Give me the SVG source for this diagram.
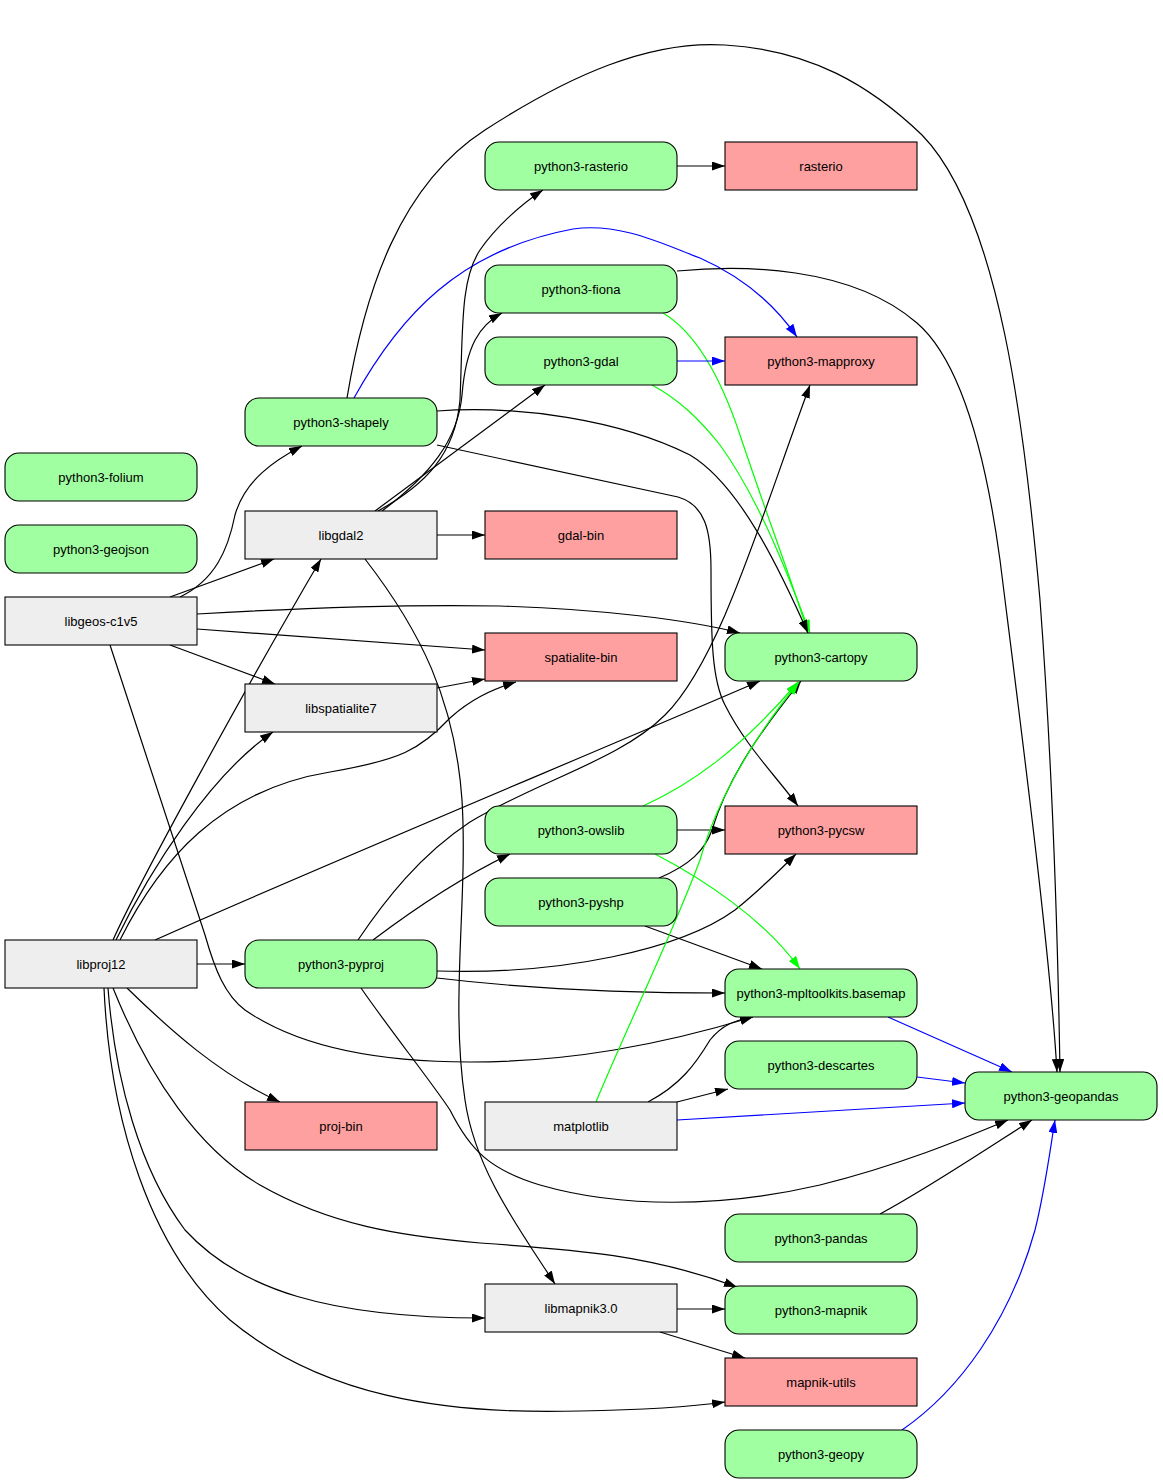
<svg xmlns="http://www.w3.org/2000/svg" width="1163" height="1484" viewBox="0 0 1163 1484">
<style>
.n rect{stroke:#000;stroke-width:1.1}
.g rect{fill:#a0ffa0}
.r rect{fill:#ffa0a0}
.x rect{fill:#eeeeee}
.n text{font-family:"Liberation Sans",Arial,sans-serif;font-size:13px;text-anchor:middle;fill:#000}
#edges path{fill:none;stroke-width:1.2}
.k{stroke:#000;marker-end:url(#ak)}
.b{stroke:#0000ff;marker-end:url(#ab)}
.e{stroke:#00ff00;marker-end:url(#ag)}
</style>
<defs>
<marker id="ak" viewBox="0 0 13 9" refX="13" refY="4.5" markerUnits="userSpaceOnUse" markerWidth="13" markerHeight="9" orient="auto"><path d="M0,0 L13,4.5 L0,9 z" fill="#000"/></marker>
<marker id="ab" viewBox="0 0 13 9" refX="13" refY="4.5" markerUnits="userSpaceOnUse" markerWidth="13" markerHeight="9" orient="auto"><path d="M0,0 L13,4.5 L0,9 z" fill="#0000ff"/></marker>
<marker id="ag" viewBox="0 0 13 9" refX="13" refY="4.5" markerUnits="userSpaceOnUse" markerWidth="13" markerHeight="9" orient="auto"><path d="M0,0 L13,4.5 L0,9 z" fill="#00ff00"/></marker>
</defs>
<rect width="1163" height="1484" fill="#fff"/>
<g id="edges">
<path class="k" d="M677,166 L725,166"/>
<path class="k" d="M347,398 C365,290 400,185 485,130 C570,75 650,40 725,45 C810,50 870,85 922,135 C1000,215 1025,430 1040,600 C1052,760 1058,950 1060,1072"/>
<path class="b" d="M354,398 C400,315 460,250 573,229 C620,222 665,245 700,258 C745,278 775,305 797,337"/>
<path class="k" d="M677,271 C740,265 850,265 917,323 C960,360 985,450 1000,560 C1020,720 1050,950 1057,1072"/>
<path class="e" d="M663,313 C700,335 725,390 740,435 C765,510 795,590 808,633"/>
<path class="b" d="M677,361 L725,361"/>
<path class="e" d="M652,385 C680,400 700,420 720,445 C760,500 790,580 810,633"/>
<path class="k" d="M437,411 C520,405 620,420 690,455 C740,485 780,570 808,633"/>
<path class="k" d="M437,445 L678,497 C705,505 711,530 711,570 C711,640 712,680 725,705 C745,745 775,775 798,806"/>
<path class="k" d="M378,511 C425,485 455,455 460,400 C463,330 460,280 480,250 C495,228 520,205 543,190"/>
<path class="k" d="M382,511 C430,475 458,440 462,395 C466,345 480,325 502,313"/>
<path class="k" d="M375,511 L545,385"/>
<path class="k" d="M437,535 L485,535"/>
<path class="k" d="M365,559 C420,630 455,700 462,800 C468,900 450,1000 465,1100 C475,1170 520,1230 555,1284"/>
<path class="k" d="M180,597 C215,580 228,550 235,515 C245,480 275,460 302,446"/>
<path class="k" d="M170,597 L274,559"/>
<path class="k" d="M197,614 C300,608 400,604 500,606 C600,609 690,620 740,633"/>
<path class="k" d="M197,629 L485,650"/>
<path class="k" d="M170,645 L275,684"/>
<path class="k" d="M110,645 L205,935 C215,970 225,995 245,1010 C300,1048 380,1062 470,1062 C570,1062 660,1045 753,1017"/>
<path class="k" d="M437,688 L485,679"/>
<path class="k" d="M113,940 C140,880 250,680 321,559"/>
<path class="k" d="M116,940 C150,870 210,775 273,732"/>
<path class="k" d="M120,940 C160,860 220,790 330,772 C400,760 420,750 450,718 C470,700 490,690 516,682"/>
<path class="k" d="M155,940 C300,875 600,750 760,681"/>
<path class="k" d="M197,964 L245,964"/>
<path class="k" d="M127,988 C170,1030 220,1075 280,1102"/>
<path class="k" d="M113,988 C150,1080 200,1150 260,1185 C330,1225 400,1236 480,1243 C580,1250 650,1255 737,1287"/>
<path class="k" d="M108,988 C115,1080 140,1170 185,1230 C240,1290 330,1318 485,1318"/>
<path class="k" d="M104,988 C110,1120 150,1250 230,1320 C320,1395 440,1415 580,1411 C640,1410 690,1407 725,1402"/>
<path class="k" d="M358,940 C385,900 420,855 470,822 C540,780 620,760 665,715 C720,660 760,520 810,385"/>
<path class="k" d="M373,940 C410,912 460,878 510,854"/>
<path class="k" d="M437,971 C560,975 680,950 735,910 C760,890 780,870 796,854"/>
<path class="k" d="M437,978 C520,988 620,993 725,993"/>
<path class="k" d="M361,988 C390,1030 430,1080 450,1110 C470,1150 490,1170 540,1185 C620,1208 720,1208 820,1185 C900,1165 960,1140 1008,1120"/>
<path class="k" d="M677,830 L725,830"/>
<path class="e" d="M643,806 C690,785 740,750 798,682"/>
<path class="e" d="M655,854 C705,880 765,920 800,969"/>
<path class="k" d="M659,878 C690,865 705,850 712,830 C730,770 770,720 801,681"/>
<path class="k" d="M645,926 L762,969"/>
<path class="e" d="M596,1102 C630,1020 670,940 700,860 C720,790 760,730 799,682"/>
<path class="k" d="M648,1102 C680,1085 695,1065 710,1040 C722,1025 735,1020 753,1017"/>
<path class="k" d="M677,1102 L728,1089"/>
<path class="b" d="M677,1120 L965,1103"/>
<path class="b" d="M888,1017 L1012,1072"/>
<path class="b" d="M917,1077 L965,1083"/>
<path class="k" d="M880,1214 C925,1190 985,1150 1032,1120"/>
<path class="k" d="M677,1309 L725,1309"/>
<path class="k" d="M660,1332 L745,1358"/>
<path class="b" d="M902,1430 C960,1390 1010,1320 1035,1230 C1045,1190 1050,1150 1055,1120"/>
</g>
<g id="python3-rasterio" class="n g"><rect x="485" y="142" width="192" height="48" rx="14"/><text x="581" y="170.5">python3-rasterio</text></g>
<g id="rasterio" class="n r"><rect x="725" y="142" width="192" height="48"/><text x="821" y="170.5">rasterio</text></g>
<g id="python3-fiona" class="n g"><rect x="485" y="265" width="192" height="48" rx="14"/><text x="581" y="293.5">python3-fiona</text></g>
<g id="python3-gdal" class="n g"><rect x="485" y="337" width="192" height="48" rx="14"/><text x="581" y="365.5">python3-gdal</text></g>
<g id="python3-mapproxy" class="n r"><rect x="725" y="337" width="192" height="48"/><text x="821" y="365.5">python3-mapproxy</text></g>
<g id="python3-shapely" class="n g"><rect x="245" y="398" width="192" height="48" rx="14"/><text x="341" y="426.5">python3-shapely</text></g>
<g id="python3-folium" class="n g"><rect x="5" y="453" width="192" height="48" rx="14"/><text x="101" y="481.5">python3-folium</text></g>
<g id="python3-geojson" class="n g"><rect x="5" y="525" width="192" height="48" rx="14"/><text x="101" y="553.5">python3-geojson</text></g>
<g id="libgdal2" class="n x"><rect x="245" y="511" width="192" height="48"/><text x="341" y="539.5">libgdal2</text></g>
<g id="gdal-bin" class="n r"><rect x="485" y="511" width="192" height="48"/><text x="581" y="539.5">gdal-bin</text></g>
<g id="libgeos-c1v5" class="n x"><rect x="5" y="597" width="192" height="48"/><text x="101" y="625.5">libgeos-c1v5</text></g>
<g id="spatialite-bin" class="n r"><rect x="485" y="633" width="192" height="48"/><text x="581" y="661.5">spatialite-bin</text></g>
<g id="python3-cartopy" class="n g"><rect x="725" y="633" width="192" height="48" rx="14"/><text x="821" y="661.5">python3-cartopy</text></g>
<g id="libspatialite7" class="n x"><rect x="245" y="684" width="192" height="48"/><text x="341" y="712.5">libspatialite7</text></g>
<g id="python3-owslib" class="n g"><rect x="485" y="806" width="192" height="48" rx="14"/><text x="581" y="834.5">python3-owslib</text></g>
<g id="python3-pycsw" class="n r"><rect x="725" y="806" width="192" height="48"/><text x="821" y="834.5">python3-pycsw</text></g>
<g id="python3-pyshp" class="n g"><rect x="485" y="878" width="192" height="48" rx="14"/><text x="581" y="906.5">python3-pyshp</text></g>
<g id="libproj12" class="n x"><rect x="5" y="940" width="192" height="48"/><text x="101" y="968.5">libproj12</text></g>
<g id="python3-pyproj" class="n g"><rect x="245" y="940" width="192" height="48" rx="14"/><text x="341" y="968.5">python3-pyproj</text></g>
<g id="python3-mpltoolkits.basemap" class="n g"><rect x="725" y="969" width="192" height="48" rx="14"/><text x="821" y="997.5">python3-mpltoolkits.basemap</text></g>
<g id="python3-descartes" class="n g"><rect x="725" y="1041" width="192" height="48" rx="14"/><text x="821" y="1069.5">python3-descartes</text></g>
<g id="python3-geopandas" class="n g"><rect x="965" y="1072" width="192" height="48" rx="14"/><text x="1061" y="1100.5">python3-geopandas</text></g>
<g id="proj-bin" class="n r"><rect x="245" y="1102" width="192" height="48"/><text x="341" y="1130.5">proj-bin</text></g>
<g id="matplotlib" class="n x"><rect x="485" y="1102" width="192" height="48"/><text x="581" y="1130.5">matplotlib</text></g>
<g id="python3-pandas" class="n g"><rect x="725" y="1214" width="192" height="48" rx="14"/><text x="821" y="1242.5">python3-pandas</text></g>
<g id="libmapnik3.0" class="n x"><rect x="485" y="1284" width="192" height="48"/><text x="581" y="1312.5">libmapnik3.0</text></g>
<g id="python3-mapnik" class="n g"><rect x="725" y="1286" width="192" height="48" rx="14"/><text x="821" y="1314.5">python3-mapnik</text></g>
<g id="mapnik-utils" class="n r"><rect x="725" y="1358" width="192" height="48"/><text x="821" y="1386.5">mapnik-utils</text></g>
<g id="python3-geopy" class="n g"><rect x="725" y="1430" width="192" height="48" rx="14"/><text x="821" y="1458.5">python3-geopy</text></g>
</svg>
